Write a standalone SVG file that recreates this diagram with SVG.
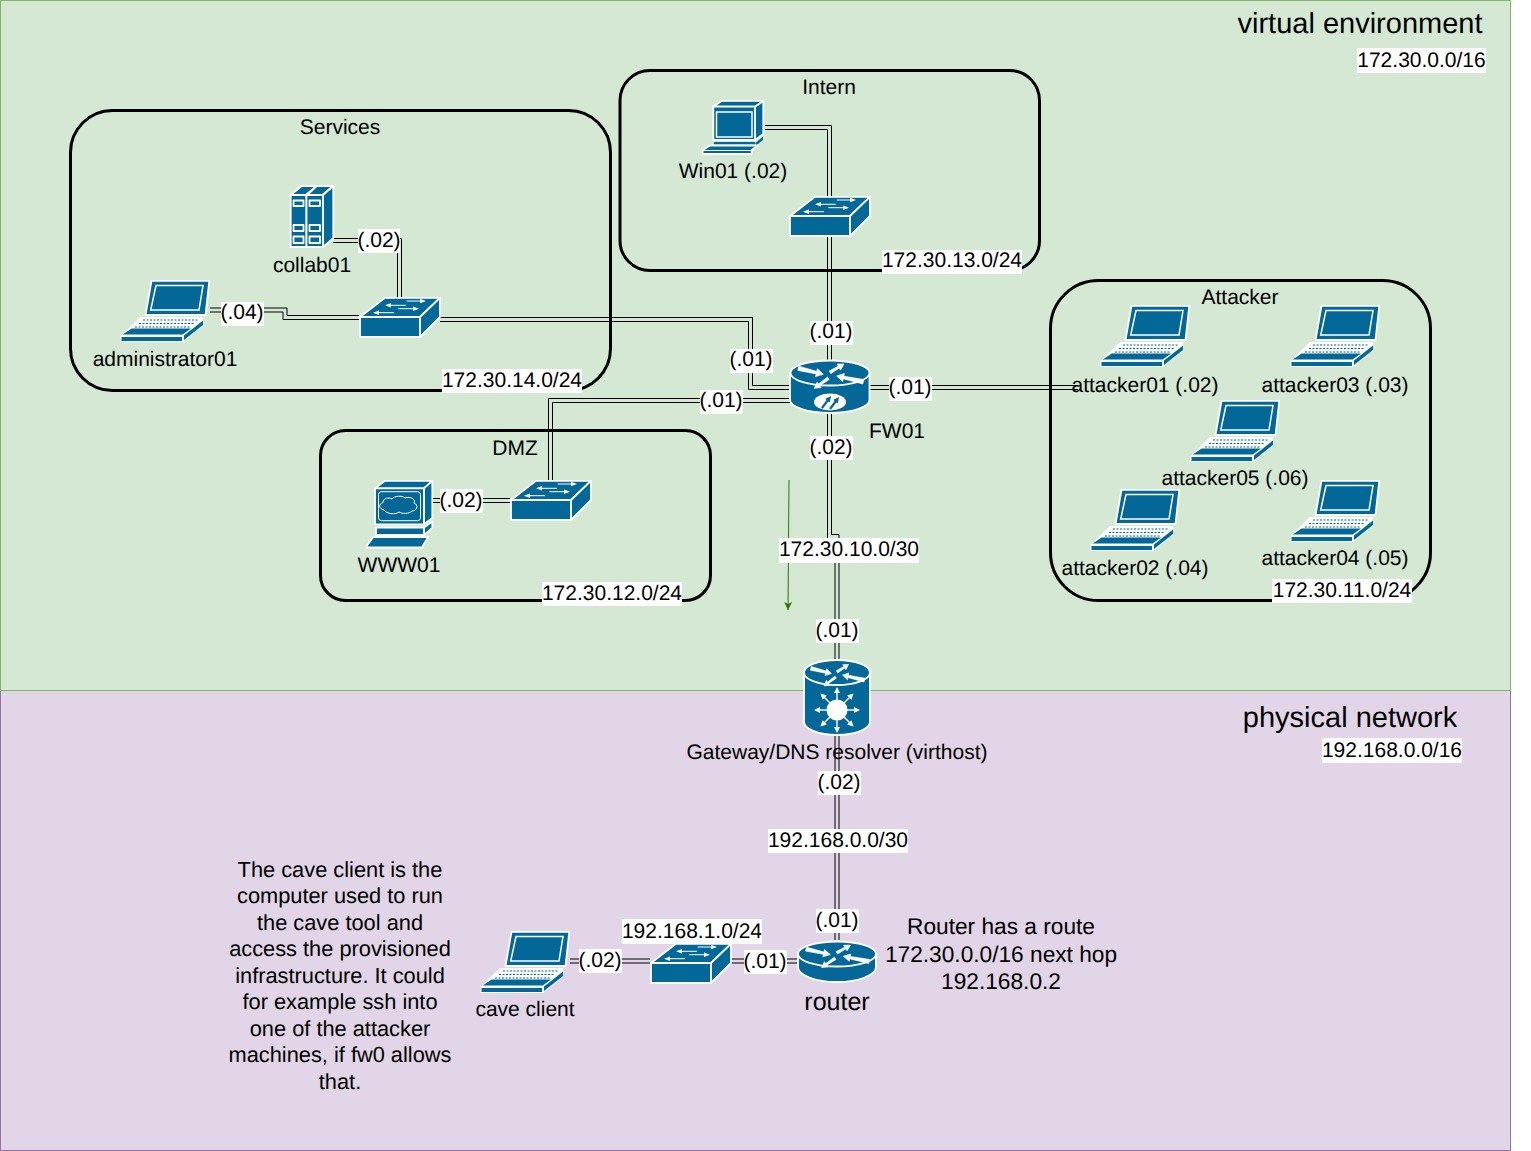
<svg xmlns="http://www.w3.org/2000/svg" xmlns:xlink="http://www.w3.org/1999/xlink" width="1531" height="1151" viewBox="0 0 1531 1151">
<style>
text{font-family:"Liberation Sans",Arial,sans-serif;font-size:21px;fill:#000;text-anchor:middle;text-rendering:geometricPrecision;transform:translateY(-.8px)}
.big{font-size:29px}
.mid{font-size:25px}
.rt{font-size:22.7px}
.nt{font-size:21.8px}
.zone{fill:none;stroke:#000;stroke-width:3}
.ln{fill:none;stroke:#000;stroke-width:1}
.b{fill:#036897;stroke:#fff;stroke-width:1.8;stroke-linejoin:round}
.n{fill:#036897;stroke:none}
.w{fill:none;stroke:#fff;stroke-width:1.5}
.wf{fill:#fff;stroke:none}
.ar2{fill:none;stroke:#fff;stroke-width:1;marker-end:url(#wh2)}
.ar3{fill:none;stroke:#fff;stroke-width:1.4;marker-end:url(#wh3)}
.bg{fill:#fff}
</style>
<defs>
<marker id="wh2" markerUnits="userSpaceOnUse" markerWidth="6" markerHeight="5" refX="1" refY="2.500" orient="auto"><path d="M0 .3L6 2.500L0 4.700Z" fill="#fff"/></marker>
<marker id="wh3" markerUnits="userSpaceOnUse" markerWidth="6" markerHeight="6" refX="1" refY="3" orient="auto"><path d="M0 0L6 3L0 6Z" fill="#fff"/></marker>
<marker id="bm" markerUnits="userSpaceOnUse" markerWidth="6" markerHeight="6" refX="1" refY="3" orient="auto"><path d="M0 0L6 3L0 6Z" fill="#036897"/></marker>
<marker id="ga" markerUnits="userSpaceOnUse" markerWidth="9" markerHeight="9" refX="8" refY="4" orient="auto"><path d="M0 0L8 4L0 8L2 4Z" fill="#2d7600"/></marker>
<g id="laptop">
<path class="b" d="M31.500 .9H89.300L85.500 35H25.500Z"/>
<path class="w" d="M36 5.500H83L79 30H30.700Z"/>
<path d="M20 37H83V46L63 62H.5V56Z" fill="#fff"/>
<path d="M23 40H78M19 43.500H74M15 47H70" fill="none" stroke="#036897" stroke-width="1" stroke-dasharray="2 1.500"/>
<path class="n" d="M11.700 48.500H71L62.700 54.500H2.700Z"/>
<path class="n" d="M1.500 57H62V61H1.500Z"/>
<path class="n" d="M64 55.500L83 40.500V45L64 60Z"/>
</g>
<g id="switch">
<path class="b" d="M1 20L26 .9H81L61 20Z"/>
<path class="b" d="M1 20H61V40H1Z"/>
<path class="b" d="M61 20L81 .9V20L61 40Z"/>
<path class="ar2" d="M47.700 4H62"/>
<path class="ar2" d="M47 8.300H31"/>
<path class="ar2" d="M39.300 11.700H55"/>
<path class="ar2" d="M35 15.700H19"/>
</g>
<g id="routertop" fill="#fff" stroke="#fff" stroke-width=".7">
<polygon points="8.800,6.200 26.800,11.400 27.400,8.800 33.300,14.300 25.600,16.600 26.200,13.900 7.800,10.400"/>
<polygon points="39.200,11 48.300,6.200 47,4.100 54,4 50.600,10.100 49.300,8 40.800,13.600"/>
<polygon points="73.800,19.500 53.800,16.200 54.300,13.600 46.700,16 52.700,21.400 53.200,18.800 72.800,23.900"/>
<polygon points="37.400,17.100 28.600,24 27.200,22 24.300,28.300 31.200,27.600 29.800,25.600 39.200,19.500"/>
</g>
<g id="pc">
<path class="b" d="M11.300 6.700L19.700 .9H61.300L53 6.700Z"/>
<path class="b" d="M53 6.700L61.300 .9V34L53 40Z"/>
<path class="b" d="M11.300 6.700H53V40H11.300Z"/>
<path class="w" d="M14.500 12H50V37H14.500Z"/>
<path class="n" d="M12 42H53V44.500H12Z"/>
<path class="n" d="M53.500 43L61 36.500V40L53.500 46Z"/>
<path class="b" d="M.7 50L8 45.500H56L49.700 50V54H.7Z"/>
<path d="M.7 50.500H50" stroke="#fff" fill="none" stroke-width="1.200"/>
</g>
<g id="web">
<path class="b" d="M9 8.300L19 .9H66.300L58 8.300Z"/>
<path class="b" d="M58 8.300L66.300 .9V38L58 44.300Z"/>
<path class="b" d="M9 8.300H58V44.300H9Z"/>
<rect class="w" x="12.500" y="11.700" width="42" height="29" rx="3" style="stroke-width:1"/>
<path class="w" style="stroke-width:1" d="M18 30C13 29 12 24 17 22.500C17 18 23 17 26 19C28 16 36 15 39 18C44 16 50 19 48 23C53 25 51 31 46 31C43 34 36 34 33 32C29 35 21 34 18 30Z"/>
<path class="b" d="M10 47.500H58V55H10Z"/>
<path class="b" d="M58 47.500L66.300 41.500V48L58 55Z"/>
<path class="b" d="M.7 66L7.300 57H62.300L56.700 66V67.500H.7Z"/>
</g>
<g id="server">
<path class="b" d="M.7 10L11.700 1H26.700L15.700 10Z"/>
<path class="b" d="M17.300 10L26.700 1H43.300L32.300 10Z"/>
<path class="b" d="M33 10L43.300 1V53.300L33 62Z"/>
<path class="b" d="M.7 10H16.500V62H.7Z"/>
<path class="b" d="M16.500 10H33V62H16.500Z"/>
<path class="b" d="M3.500 15.500H13.500V21H3.500ZM19.500 15.500H30V21H19.500ZM3.500 40H13.500V46H3.500ZM19.500 40H30V46H19.500ZM3.500 51.500H13.500V58H3.500ZM19.500 51.500H30V58H19.500Z"/>
</g>
</defs>

<rect id="physical-zone" x=".5" y="690.500" width="1510" height="460" fill="#e1d5e7" stroke="#9673a6"/>
<rect id="virtual-zone" x=".5" y=".5" width="1510" height="690" fill="#d5e8d4" stroke="#82b366"/>

<g id="zone-services"><rect class="zone" x="70.500" y="110.500" width="540" height="280" rx="42"/><text x="340" y="135">Services</text></g>
<g id="zone-intern"><rect class="zone" x="620" y="70.500" width="419.500" height="200" rx="30"/><text x="829" y="95">Intern</text></g>
<g id="zone-attacker"><rect class="zone" x="1050.500" y="280.500" width="380" height="320" rx="48"/><text x="1240" y="305">Attacker</text></g>
<g id="zone-dmz"><rect class="zone" x="320.500" y="430.500" width="390" height="170" rx="25"/><text x="515" y="456">DMZ</text></g>

<g id="connectors">
<path class="ln" d="M765 125.500H831.500V196M765 129.500H827.500V196"/>
<path class="ln" d="M827.500 237V360M831.500 237V360"/>
<path class="ln" d="M440 317.500H752.500V385.500H790M440 321.500H748.500V389.500H790"/>
<path class="ln" d="M790 398.500H548.500V480M790 402.500H552.500V480"/>
<path class="ln" d="M869 385.500H1078M869 389.500H1078"/>
<path class="ln" d="M827.500 413V540H835V660M831.500 413V534.500H839V660"/>
<path class="ln" d="M835 735V940M839 735V940"/>
<path class="ln" d="M570 959H650M570 963H650"/>
<path class="ln" d="M730 959H798M730 963H798"/>
<path class="ln" d="M210 308H287V315.500H359M210 312H283V319.500H359"/>
<path class="ln" d="M333 238.500H401.500V298M333 242.500H397.500V298"/>
<path class="ln" d="M433 498.500H510M433 502.500H510"/>
<path d="M789 480L788 610" fill="none" stroke="#2d7600" stroke-width="1" marker-end="url(#ga)"/>
</g>

<g id="admin"><use href="#laptop" x="120" y="280"/><text x="165" y="367">administrator01</text></g>
<g id="collab01"><use href="#server" x="290" y="185"/><text x="312" y="273">collab01</text></g>
<g id="sw-services"><use href="#switch" x="359" y="297"/></g>
<g id="win01"><use href="#pc" x="702" y="100"/><text x="733" y="179">Win01 (.02)</text></g>
<g id="sw-intern"><use href="#switch" x="789" y="196"/></g>
<g id="www01"><use href="#web" x="366" y="480"/><text x="399" y="573">WWW01</text></g>
<g id="sw-dmz"><use href="#switch" x="510" y="480"/></g>
<g id="fw01">
<path class="b" d="M790 373V400C790 407 808 413 830 413S869.500 407 869.500 400V373Z"/>
<ellipse class="b" cx="830" cy="373" rx="39.500" ry="12.500"/>
<use href="#routertop" x="790" y="360"/>
<ellipse class="wf" cx="830" cy="402" rx="16" ry="8.500"/>
<path d="M822 408L828 400" fill="none" stroke="#036897" stroke-width="2.200" marker-end="url(#bm)"/>
<path d="M830 409L836 401" fill="none" stroke="#036897" stroke-width="2.200" marker-end="url(#bm)"/>
<text x="897" y="439">FW01</text>
</g>
<g id="attacker01"><use href="#laptop" x="1100" y="305"/><text x="1145" y="393">attacker01 (.02)</text></g>
<g id="attacker03"><use href="#laptop" x="1290" y="305"/><text x="1335" y="393">attacker03 (.03)</text></g>
<g id="attacker05"><use href="#laptop" x="1190" y="400"/><text x="1235" y="486">attacker05 (.06)</text></g>
<g id="attacker02"><use href="#laptop" x="1090" y="489"/><text x="1135" y="576">attacker02 (.04)</text></g>
<g id="attacker04"><use href="#laptop" x="1290" y="480"/><text x="1335" y="566">attacker04 (.05)</text></g>
<g id="gateway">
<path class="b" d="M804 672.500V722C804 729 819 735 837 735S870 729 870 722V672.500Z"/>
<ellipse class="b" cx="837" cy="672.500" rx="33" ry="12.500"/>
<g transform="translate(804 661) scale(.825 .88)"><use href="#routertop"/></g>
<circle class="wf" cx="837" cy="710" r="10.500"/>
<path class="ar3" d="M837 700V692"/><path class="ar3" d="M837 720V728"/><path class="ar3" d="M827 710H819"/><path class="ar3" d="M847 710H855"/>
<path class="ar3" d="M830 703L824 697"/><path class="ar3" d="M844 703L850 697"/><path class="ar3" d="M830 717L824 723"/><path class="ar3" d="M844 717L850 723"/>
<text x="837" y="760">Gateway/DNS resolver (virthost)</text>
</g>
<g id="router">
<path class="b" d="M798 954V967C798 975 815 982 837 982S876 975 876 967V954Z"/>
<ellipse class="b" cx="837" cy="954" rx="39" ry="12.500"/>
<g transform="translate(798 941.500) scale(.97 .92)"><use href="#routertop"/></g>
<text class="mid" x="837" y="1011">router</text>
</g>
<g id="sw-cave"><use href="#switch" x="650" y="943"/></g>
<g id="cave-client"><use href="#laptop" x="480" y="931"/><text x="525" y="1017">cave client</text></g>

<g id="edge-labels">
<rect class="bg" x="358" y="229" width="42" height="24"/><text x="379" y="248">(.02)</text>
<rect class="bg" x="221" y="302" width="43" height="24"/><text x="242" y="320">(.04)</text>
<rect class="bg" x="442" y="369" width="140" height="24"/><text x="512" y="388">172.30.14.0/24</text>
<rect class="bg" x="882" y="250" width="140" height="24"/><text x="952" y="268">172.30.13.0/24</text>
<rect class="bg" x="542" y="582" width="140" height="24"/><text x="612" y="601">172.30.12.0/24</text>
<rect class="bg" x="1272" y="579" width="140" height="24"/><text x="1342" y="598">172.30.11.0/24</text>
<rect class="bg" x="810" y="321" width="43" height="24"/><text x="831" y="339">(.01)</text>
<rect class="bg" x="730" y="349" width="43" height="24"/><text x="751" y="367">(.01)</text>
<rect class="bg" x="700" y="390" width="43" height="24"/><text x="721" y="408">(.01)</text>
<rect class="bg" x="889" y="377" width="43" height="24"/><text x="910" y="395">(.01)</text>
<rect class="bg" x="810" y="436" width="43" height="24"/><text x="831" y="455">(.02)</text>
<rect class="bg" x="440" y="489" width="43" height="24"/><text x="461" y="508">(.02)</text>
<rect class="bg" x="779" y="538" width="140" height="25"/><text x="849" y="557">172.30.10.0/30</text>
<rect class="bg" x="816" y="619" width="43" height="24"/><text x="837" y="638">(.01)</text>
<rect class="bg" x="818" y="771" width="43" height="24"/><text x="839" y="790">(.02)</text>
<rect class="bg" x="768" y="829" width="140" height="24"/><text x="838" y="848">192.168.0.0/30</text>
<rect class="bg" x="816" y="909" width="43" height="24"/><text x="837" y="928">(.01)</text>
<rect class="bg" x="622" y="919" width="140" height="25"/><text x="692" y="939">192.168.1.0/24</text>
<rect class="bg" x="579" y="949" width="43" height="24"/><text x="600" y="968">(.02)</text>
<rect class="bg" x="744" y="950" width="43" height="24"/><text x="765" y="969">(.01)</text>
</g>

<g id="zone-labels">
<text class="big" x="1360" y="34">virtual environment</text>
<rect class="bg" x="1357" y="48" width="129" height="25"/><text x="1421.500" y="68">172.30.0.0/16</text>
<text class="big" x="1350" y="728">physical network</text>
<rect class="bg" x="1322" y="738" width="140" height="25"/><text x="1392" y="758">192.168.0.0/16</text>
</g>
<g id="note-route">
<text class="rt" x="1001" y="935">Router has a route</text>
<text class="rt" x="1001" y="963">172.30.0.0/16 next hop</text>
<text class="rt" x="1001" y="990">192.168.0.2</text>
</g>
<g id="note-cave">
<text class="nt" x="340" y="878">The cave client is the</text>
<text class="nt" x="340" y="904">computer used to run</text>
<text class="nt" x="340" y="931">the cave tool and</text>
<text class="nt" x="340" y="957">access the provisioned</text>
<text class="nt" x="340" y="984">infrastructure. It could</text>
<text class="nt" x="340" y="1010">for example ssh into</text>
<text class="nt" x="340" y="1037">one of the attacker</text>
<text class="nt" x="340" y="1063">machines, if fw0 allows</text>
<text class="nt" x="340" y="1090">that.</text>
</g>
</svg>
